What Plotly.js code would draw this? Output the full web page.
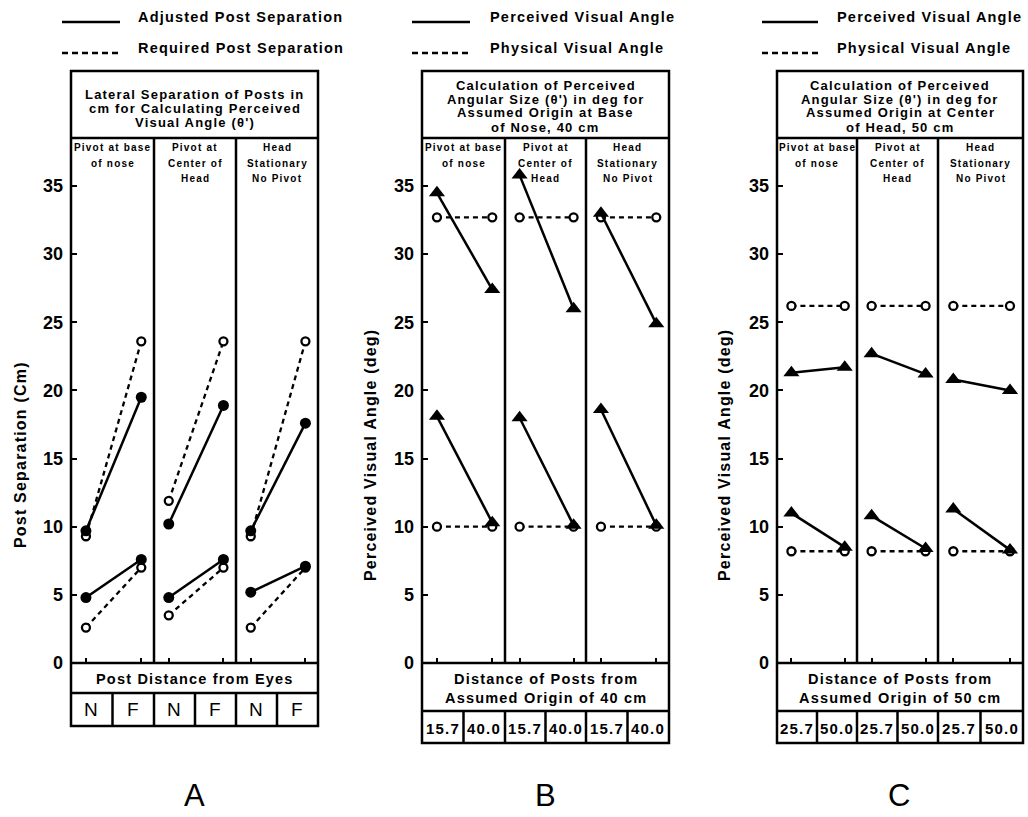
<!DOCTYPE html>
<html><head><meta charset="utf-8">
<script src="https://cdn.plot.ly/plotly-3.0.1.min.js"></script>
<style>
html,body{margin:0;padding:0;background:#fff}
text.annotation-text{letter-spacing:1.2px}
</style>
</head><body><div id="chart" style="width:1028px;height:817px"></div>
<script>
// ---------------- DATA ----------------
const yTicks = [0, 5, 10, 15, 20, 25, 30, 35];
const subpanelLabels = [["Pivot at base", "of nose"], ["Pivot at", "Center of", "Head"], ["Head", "Stationary", "No Pivot"]];
const nearFarLabels = ["N", "F"];
const distLabelsB = ["15.7", "40.0"];
const distLabelsC = ["25.7", "50.0"];

// Panel A: post separation (cm), [near, far] per subpanel
const aAdjustedUpper = [[9.7, 19.5], [10.2, 18.9], [9.7, 17.6]];
const aAdjustedLower = [[4.8, 7.6], [4.8, 7.6], [5.2, 7.1]];
const aRequiredUpper = [[9.3, 23.6], [11.9, 23.6], [9.3, 23.6]];
const aRequiredLower = [[2.6, 7.0], [3.5, 7.0], [2.6, 7.0]];

// Panel B: visual angle (deg), origin at base of nose, 40 cm
const bPerceivedUpper = [[34.5, 27.4], [35.8, 26.0], [33.0, 24.9]];
const bPerceivedLower = [[18.1, 10.3], [18.0, 10.1], [18.6, 10.1]];
const bPhysicalUpper = [[32.7, 32.7], [32.7, 32.7], [32.7, 32.7]];
const bPhysicalLower = [[10.0, 10.0], [10.0, 10.0], [10.0, 10.0]];

// Panel C: visual angle (deg), origin at center of head, 50 cm
const cPerceivedUpper = [[21.3, 21.7], [22.7, 21.2], [20.8, 20.0]];
const cPerceivedLower = [[11.0, 8.5], [10.8, 8.4], [11.3, 8.3]];
const cPhysicalUpper = [[26.2, 26.2], [26.2, 26.2], [26.2, 26.2]];
const cPhysicalLower = [[8.2, 8.2], [8.2, 8.2], [8.2, 8.2]];

// ---------------- GEOMETRY / STYLE ----------------
const W = 1028, H = 817;
const FONT = "Liberation Sans, Arial, Helvetica, sans-serif";
const px = x => x / W, py = y => 1 - y / H;
const TOP = 71, TITLE_BOTTOM = 138, PLOT_BOTTOM = 663;
const UNIT = (PLOT_BOTTOM - 186) / 35;
const YMAX = (PLOT_BOTTOM - TITLE_BOTTOM) / UNIT;
const LW = 2.5;

const panels = [
  {cuts: [71, 154, 236, 318], boxBottom: 693, bottom: 726, letter: "A",
   ytitle: "Post Separation (Cm)", ytx: 20,
   legend: {lx0: 62, lx1: 120, tx: 136, solid: "Adjusted Post Separation", dashed: "Required Post Separation"},
   title: ["Lateral Separation of Posts in", "cm for Calculating Perceived", "Visual Angle (\u03b8')"],
   titleY: [95, 108, 122],
   bottomText: ["Post Distance from Eyes"], bottomTextY: [679], cellLabels: nearFarLabels, cellY: 709, cellSize: 19, cellWeight: "normal",
   solid: [aAdjustedUpper, aAdjustedLower], dashed: [aRequiredUpper, aRequiredLower], solidSymbol: "circle", solidSize: 11},
  {cuts: [422, 505, 586, 669], boxBottom: 711, bottom: 743, letter: "B",
   ytitle: "Perceived Visual Angle (deg)", ytx: 370,
   legend: {lx0: 412, lx1: 470, tx: 488, solid: "Perceived Visual Angle", dashed: "Physical Visual Angle"},
   title: ["Calculation of Perceived", "Angular Size (\u03b8') in deg for", "Assumed Origin at Base", "of Nose, 40 cm"],
   titleY: [85, 99, 113, 127],
   bottomText: ["Distance of Posts from", "Assumed Origin of 40 cm"], bottomTextY: [679, 698], cellLabels: distLabelsB, cellY: 728, cellSize: 15, cellWeight: "bold",
   solid: [bPerceivedUpper, bPerceivedLower], dashed: [bPhysicalUpper, bPhysicalLower], solidSymbol: "triangle-up", solidSize: 14},
  {cuts: [777, 857, 938, 1023], boxBottom: 711, bottom: 743, letter: "C",
   ytitle: "Perceived Visual Angle (deg)", ytx: 724,
   legend: {lx0: 762, lx1: 818, tx: 835, solid: "Perceived Visual Angle", dashed: "Physical Visual Angle"},
   title: ["Calculation of Perceived", "Angular Size (\u03b8') in deg for", "Assumed Origin at Center", "of Head, 50 cm"],
   titleY: [85, 99, 113, 127],
   bottomText: ["Distance of Posts from", "Assumed Origin of 50 cm"], bottomTextY: [679, 698], cellLabels: distLabelsC, cellY: 728, cellSize: 15, cellWeight: "bold",
   solid: [cPerceivedUpper, cPerceivedLower], dashed: [cPhysicalUpper, cPhysicalLower], solidSymbol: "triangle-up", solidSize: 14}
];

const traces = [], shapes = [], annotations = [];
const layout = {
  width: W, height: H, margin: {l: 0, r: 0, t: 0, b: 0},
  paper_bgcolor: "#fff", plot_bgcolor: "rgba(0,0,0,0)", showlegend: false,
  font: {family: FONT, color: "#000"}
};

function ann(text, x, y, size, weight, extra) {
  annotations.push(Object.assign({text: text, x: px(x), y: py(y), xref: "paper", yref: "paper",
    xanchor: "center", yanchor: "middle", showarrow: false,
    font: {family: FONT, size: size, color: "#000", weight: weight || "bold"}}, extra || {}));
}
function line(x0, y0, x1, y1, dash, w) {
  shapes.push({type: "line", xref: "paper", yref: "paper", x0: px(x0), y0: py(y0), x1: px(x1), y1: py(y1),
    line: {color: "#000", width: w || LW, dash: dash || "solid"}});
}

let xi = 0;
panels.forEach((p, pi) => {
  const yId = pi === 0 ? "y" : "y" + (pi + 1);
  const yKey = pi === 0 ? "yaxis" : "yaxis" + (pi + 1);
  const firstX = "x" + (xi === 0 ? "" : (xi + 1));
  layout[yKey] = {
    domain: [py(PLOT_BOTTOM), py(TITLE_BOTTOM)], range: [0, YMAX], anchor: firstX,
    tickvals: yTicks, ticks: "inside", ticklen: 6, tickwidth: 2, tickcolor: "#000",
    showline: false, showgrid: false, zeroline: false, ticklabelstandoff: 7,
    tickfont: {family: FONT, size: 18, color: "#000", weight: "bold"}, fixedrange: true
  };
  for (let s = 0; s < 3; s++) {
    const xId = "x" + (xi === 0 ? "" : (xi + 1));
    const xKey = "xaxis" + (xi === 0 ? "" : (xi + 1));
    layout[xKey] = {
      domain: [px(p.cuts[s]), px(p.cuts[s + 1])], range: [-0.27, 1.23], anchor: yId,
      tickvals: [0, 1], ticks: "inside", ticklen: 5, tickwidth: 2, tickcolor: "#000",
      showticklabels: false, showline: false, showgrid: false, zeroline: false, fixedrange: true
    };
    const dUp = p.dashed[0][s], dLo = p.dashed[1][s];
    const sUp = p.solid[0][s], sLo = p.solid[1][s];
    traces.push({
      x: [0, 1, null, 0, 1], y: [dUp[0], dUp[1], null, dLo[0], dLo[1]], xaxis: xId, yaxis: yId,
      mode: "lines+markers", line: {color: "#000", width: 2.3, dash: "5px,4px"},
      marker: {symbol: "circle", size: 8, color: "#fff", line: {color: "#000", width: 2.3}},
      hoverinfo: "skip", cliponaxis: false
    });
    traces.push({
      x: [0, 1, null, 0, 1], y: [sUp[0], sUp[1], null, sLo[0], sLo[1]], xaxis: xId, yaxis: yId,
      mode: "lines+markers", line: {color: "#000", width: 2.5},
      marker: {symbol: p.solidSymbol, size: p.solidSize, color: "#000", line: {width: 0}},
      hoverinfo: "skip", cliponaxis: false
    });
    const lab = subpanelLabels[s];
    const cx = (p.cuts[s] + p.cuts[s + 1]) / 2;
    lab.forEach((t, k) => ann(t, cx, 147 + k * 16, 10, "bold"));
    const mid = cx;
    ann(p.cellLabels[0], (p.cuts[s] + mid) / 2, p.cellY, p.cellSize, p.cellWeight);
    ann(p.cellLabels[1], (mid + p.cuts[s + 1]) / 2, p.cellY, p.cellSize, p.cellWeight);
    line(mid, p.boxBottom, mid, p.bottom);
    if (s > 0) {
      line(p.cuts[s], TITLE_BOTTOM, p.cuts[s], PLOT_BOTTOM);
      line(p.cuts[s], p.boxBottom, p.cuts[s], p.bottom);
    }
    xi++;
  }
  const x0 = p.cuts[0], x1 = p.cuts[3];
  shapes.push({type: "rect", xref: "paper", yref: "paper", x0: px(x0), x1: px(x1), y0: py(TOP), y1: py(p.bottom),
    line: {color: "#000", width: LW}, fillcolor: "rgba(0,0,0,0)"});
  line(x0, TITLE_BOTTOM, x1, TITLE_BOTTOM);
  line(x0, PLOT_BOTTOM, x1, PLOT_BOTTOM);
  line(x0, p.boxBottom, x1, p.boxBottom);
  const cxp = (x0 + x1) / 2;
  p.title.forEach((t, k) => ann(t, cxp, p.titleY[k], 13, "bold"));
  p.bottomText.forEach((t, k) => ann(t, cxp, p.bottomTextY[k], 14.5, "bold"));
  line(p.legend.lx0, 22, p.legend.lx1, 22, "solid", 2.5);
  line(p.legend.lx0, 53, p.legend.lx1, 53, "6px,4px", 2.5);
  ann(p.legend.solid, p.legend.tx, 17, 14.5, "bold", {xanchor: "left"});
  ann(p.legend.dashed, p.legend.tx, 48, 14.5, "bold", {xanchor: "left"});
  ann(p.ytitle, p.ytx, 455, 16, "bold", {textangle: -90});
  ann(p.letter, cxp, 795, 31, "normal");
});

layout.shapes = shapes;
layout.annotations = annotations;
Plotly.newPlot("chart", traces, layout, {displayModeBar: false, staticPlot: true});
</script>
</body></html>
